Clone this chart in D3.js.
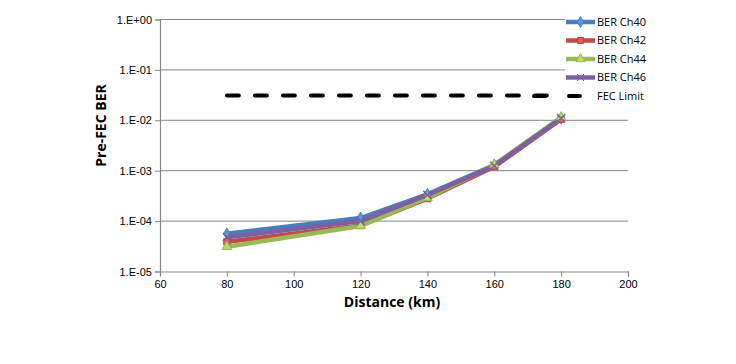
<!DOCTYPE html>
<html>
<head>
<meta charset="utf-8">
<script src="https://cdn.jsdelivr.net/npm/d3@7"></script>
<style>
  body { margin: 0; background: #fff; }
  svg { font-family: "Open Sans", "Liberation Sans", sans-serif; }
  .tick text { font-size: 11px; fill: #000; }
  .axis-label { font-size: 14px; font-weight: bold; }
  .legend text { font-size: 11px; }
</style>
</head>
<body>
<svg class="ber-chart"></svg>
<script>
var distances = [80, 120, 140, 160, 180];
var ch40 = [5.6e-5, 1.15e-4, 3.4e-4, 1.3e-3, 1.1e-2];
var ch42 = [3.9e-5, 8.2e-5, 2.8e-4, 1.2e-3, 1.05e-2];
var ch44 = [3.1e-5, 8.0e-5, 2.9e-4, 1.3e-3, 1.15e-2];
var ch46 = [4.8e-5, 1.0e-4, 3.3e-4, 1.25e-3, 1.1e-2];
var fecLimit = 3.1e-2;
var seriesNames = ["BER Ch40", "BER Ch42", "BER Ch44", "BER Ch46"];
var xTicks = [60, 80, 100, 120, 140, 160, 180, 200];
var yTicks = [1e-5, 1e-4, 1e-3, 1e-2, 1e-1, 1];
var yTickLabels = ["1.E-05", "1.E-04", "1.E-03", "1.E-02", "1.E-01", "1.E+00"];

var colors = ["#4a7ebb", "#be4b48", "#98b954", "#7d60a0"];
var symbols = [d3.symbolDiamond, d3.symbolSquare, d3.symbolTriangle, d3.symbolX];

var margin = {top: 19.5, right: 108, bottom: 92.5, left: 160};
var width = 736 - margin.left - margin.right;
var height = 364 - margin.top - margin.bottom;

var x = d3.scaleLinear().domain([60, 200]).range([0, width]);
var y = d3.scaleLog().domain([1e-5, 1]).range([height, 0]);

var svg = d3.select(".ber-chart")
  .attr("width", 736)
  .attr("height", 364);

var chart = svg.append("g")
  .attr("transform", "translate(" + margin.left + "," + margin.top + ")");

// gridlines
chart.append("g")
  .selectAll("line")
  .data(yTicks.slice(1))
  .enter().append("line")
  .attr("x1", 0)
  .attr("x2", width)
  .attr("y1", function(d) { return y(d); })
  .attr("y2", function(d) { return y(d); })
  .attr("stroke", "#868686")
  .attr("stroke-width", 1);

var xAxis = chart.append("g")
  .attr("transform", "translate(0," + height + ")")
  .call(d3.axisBottom(x).tickValues(xTicks).tickSize(5).tickPadding(4).tickFormat(d3.format("d")));

var yAxis = chart.append("g")
  .call(d3.axisLeft(y).tickValues(yTicks).tickSize(5).tickPadding(3)
    .tickFormat(function(d, i) { return yTickLabels[i]; }));

[xAxis, yAxis].forEach(function(a) {
  a.selectAll("path, line").attr("stroke", "#868686");
  a.select(".domain").attr("stroke-width", 1.2);
  a.selectAll("text").attr("font-family", null);
});

// FEC limit
chart.append("line")
  .attr("x1", x(80))
  .attr("x2", x(180))
  .attr("y1", y(fecLimit))
  .attr("y2", y(fecLimit))
  .attr("stroke", "#000")
  .attr("stroke-width", 4)
  .attr("stroke-linecap", "round")
  .attr("stroke-dasharray", "12,16");

var line = d3.line()
  .x(function(d, i) { return x(distances[i]); })
  .y(function(d) { return y(d); });

var allSeries = [ch40, ch42, ch44, ch46];

allSeries.forEach(function(vals, s) {
  chart.append("path")
    .datum(vals)
    .attr("fill", "none")
    .attr("stroke", colors[s])
    .attr("stroke-width", 4.5)
    .attr("stroke-linejoin", "round")
    .attr("d", line);
});

allSeries.forEach(function(vals, s) {
  chart.append("g")
    .selectAll("path")
    .data(vals)
    .enter().append("path")
    .attr("transform", function(d, i) { return "translate(" + x(distances[i]) + "," + y(d) + ")"; })
    .attr("d", d3.symbol().type(symbols[s]).size(s == 3 ? 45 : 40))
    .attr("fill", s == 3 ? "none" : d3.color(colors[s]).brighter(0.5))
    .attr("stroke", colors[s])
    .attr("stroke-width", s == 3 ? 1.5 : 1);
});

// legend
var legend = svg.append("g")
  .attr("class", "legend")
  .attr("transform", "translate(565,14)");

legend.append("rect")
  .attr("x", 0)
  .attr("y", 0)
  .attr("width", 110)
  .attr("height", 92)
  .attr("fill", "#fff");

var legendY = d3.scalePoint().domain(d3.range(5)).range([8, 82]);

seriesNames.forEach(function(name, s) {
  var g = legend.append("g").attr("transform", "translate(0," + legendY(s) + ")");
  g.append("line")
    .attr("x1", 1).attr("x2", 30)
    .attr("stroke", colors[s])
    .attr("stroke-width", 4.5);
  g.append("path")
    .attr("transform", "translate(15.5,0)")
    .attr("d", d3.symbol().type(symbols[s]).size(36))
    .attr("fill", s == 3 ? "none" : d3.color(colors[s]).brighter(0.5))
    .attr("stroke", colors[s]);
  g.append("text")
    .attr("x", 32)
    .attr("dy", "0.35em")
    .text(name);
});

var fecG = legend.append("g").attr("transform", "translate(0," + legendY(4) + ")");
fecG.append("line")
  .attr("x1", -31).attr("x2", 15)
  .attr("stroke", "#000")
  .attr("stroke-width", 4)
  .attr("stroke-linecap", "round")
  .attr("stroke-dasharray", "11,24");
fecG.append("text")
  .attr("x", 32)
  .attr("dy", "0.35em")
  .text("FEC Limit");

chart.append("text")
  .attr("class", "axis-label")
  .attr("transform", "rotate(-90)")
  .attr("x", -height / 2 + 20)
  .attr("y", -59)
  .attr("dy", "0.35em")
  .attr("text-anchor", "middle")
  .text("Pre-FEC BER");

chart.append("text")
  .attr("class", "axis-label")
  .attr("x", x(130) - 2)
  .attr("y", height + 31)
  .attr("dy", "0.35em")
  .attr("text-anchor", "middle")
  .text("Distance (km)");
</script>
</body>
</html>
